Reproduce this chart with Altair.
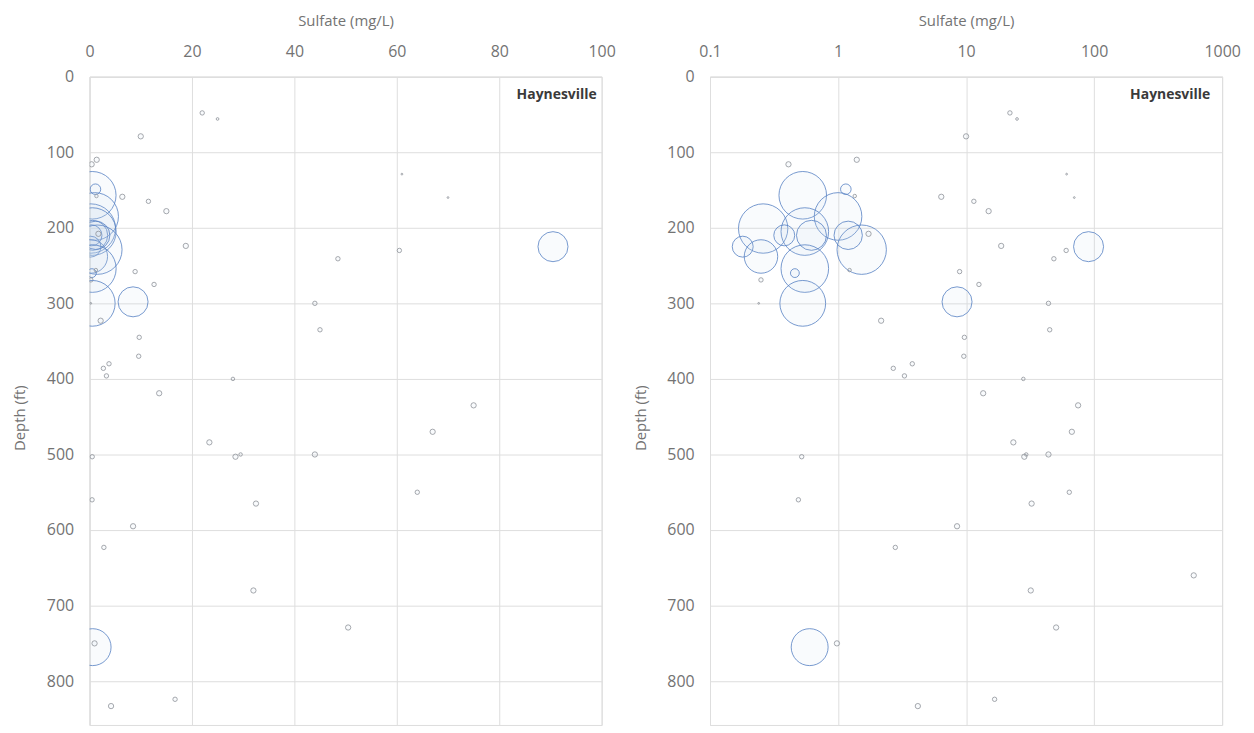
import altair as alt
import pandas as pd

# ---- data (sulfate mg/L, depth ft, relative bubble size) ----
sulfate = [22.0, 25.0, 10.0, 0.41, 1.4, 0.53, 1.15, 1.35, 0.26, 1.0,
           0.55, 0.62, 0.38, 0.18, 0.25, 1.53, 1.2, 1.73, 0.55, 0.46,
           1.23, 0.25, 0.53, 0.24, 2.17, 8.5, 6.4, 61.0, 70.0, 11.5,
           15.0, 18.8, 90.5, 60.5, 48.5, 8.9, 12.6, 44.0, 45.0, 9.7,
           9.6, 2.7, 3.3, 3.8, 28.0, 13.6, 75.0, 67.0, 23.4, 28.5,
           29.5, 44.0, 0.52, 0.49, 64.0, 32.5, 8.5, 2.8, 600.0, 32.0,
           50.5, 0.6, 0.98, 4.2, 16.7]
depth = [48, 56, 79, 116, 110, 157, 149, 158, 201, 185,
         205, 210, 210, 225, 238, 229, 210, 208, 254, 260,
         256, 269, 300, 300, 323, 298, 159, 129, 160, 165,
         178, 224, 225, 230, 241, 258, 275, 300, 335, 345,
         370, 386, 396, 380, 400, 419, 435, 470, 484, 503,
         500, 500, 503, 560, 550, 565, 595, 623, 660, 680,
         729, 755, 750, 833, 824]
bubble = [0.8, 0.3, 1.15, 1.15, 1.15, 93, 4.6, 0.5, 100, 93,
          93, 37, 18, 18, 46, 100, 33, 1.15, 93, 3.2,
          0.5, 0.8, 86, 0.13, 1.15, 37, 1.15, 0.13, 0.13, 0.8,
          1.15, 1.15, 37, 0.8, 0.8, 0.8, 0.8, 0.8, 0.8, 0.8,
          0.8, 0.8, 0.8, 0.8, 0.5, 1.15, 1.15, 1.15, 1.15, 1.15,
          0.5, 1.15, 0.8, 0.8, 0.8, 1.15, 1.15, 0.8, 1.15, 1.15,
          1.15, 56, 1.15, 1.15, 0.8]
panel_label = ["Haynesville"]
x_title = "Sulfate (mg/L)"
y_title = "Depth (ft)"
lin_ticks = [0, 20, 40, 60, 80, 100]
log_ticks = [0.1, 1, 10, 100, 1000]
depth_ticks = [0, 100, 200, 300, 400, 500, 600, 700, 800]

df = pd.DataFrame({"sulfate": sulfate, "depth": depth, "bubble": bubble})
lab = pd.DataFrame({"label": panel_label})

FONT = "Open Sans"
TXT = "#737373"
GRID = "#dedede"
W, H = 515, 652

size_scale = alt.Scale(domain=[0, 100], range=[0, 2463], zero=True)
y_scale = alt.Scale(domain=[0, 858], reverse=True, nice=False, zero=False)


def x_axis(vals, fmt):
    return alt.Axis(orient="top", values=vals, format=fmt, title=x_title,
                    grid=True, gridColor=GRID, ticks=False, tickSize=0,
                    domain=True, domainColor=GRID, labelFlush=False,
                    labelFont=FONT, labelFontSize=16, labelColor=TXT, labelPadding=17,
                    titleFont=FONT, titleFontSize=15, titleFontWeight="normal",
                    titleColor=TXT, titlePadding=15)


def y_axis(tx):
    return alt.Axis(values=depth_ticks, format="d", title=y_title,
                    grid=True, gridColor=GRID, ticks=False, tickSize=0,
                    domain=True, domainColor=GRID,
                    labelFont=FONT, labelFontSize=16, labelColor=TXT, labelPadding=16,
                    titleFont=FONT, titleFontSize=15, titleFontWeight="normal",
                    titleColor=TXT, titleX=tx, titleY=343, titleBaseline="middle",
                    titleAlign="center")


def panel(xscale, xaxis, tx, label_inset, clip):
    pts = alt.Chart(df).mark_circle(
        clip=clip, fill="#c4d7ef", fillOpacity=0.10,
        strokeOpacity=0.8, strokeWidth=1, opacity=1
    ).encode(
        x=alt.X("sulfate:Q", scale=xscale, axis=xaxis),
        y=alt.Y("depth:Q", scale=y_scale, axis=y_axis(tx)),
        size=alt.Size("bubble:Q", scale=size_scale, legend=None),
        stroke=alt.condition(alt.datum.bubble < 2, alt.value("#8f9399"),
                             alt.value("#5580c2")),
    )
    txt = alt.Chart(lab).mark_text(
        align="right", baseline="middle", font=FONT, fontSize=14,
        fontWeight="bold", color="#3a3a3a"
    ).encode(
        text="label:N",
        x=alt.value(W - label_inset),
        y=alt.value(18),
    )
    return alt.layer(pts, txt).properties(width=W, height=H)


left = panel(alt.Scale(domain=[0, 100], nice=False, zero=True),
             x_axis(lin_ticks, "d"), -70, 5, True)
right = panel(alt.Scale(type="log", domain=[0.1, 1000], nice=False),
              x_axis(log_ticks, "~g"), -70, 12, False)

chart = alt.hconcat(left, right, spacing=16).properties(
    padding={"left": 4, "top": 3, "right": 5, "bottom": 0}
).configure_view(strokeWidth=0).configure(background="white")

chart.save("out.html", embed_options={"renderer": "svg", "actions": False})
